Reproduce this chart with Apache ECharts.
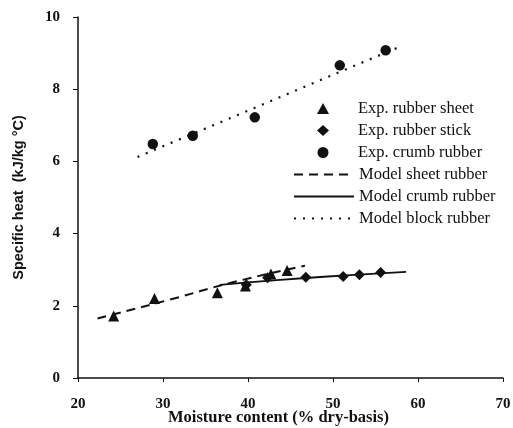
<!DOCTYPE html>
<html><head><meta charset="utf-8">
<script src="https://cdn.jsdelivr.net/npm/echarts@6/dist/echarts.min.js"></script>
<style>html,body{margin:0;padding:0;background:#fff}#c{width:513px;height:428px}</style>
</head><body><div id="c"></div>
<script>
const xTicks = [20, 30, 40, 50, 60, 70];
const yTicks = [0, 2, 4, 6, 8, 10];
const seriesNames = ['Exp. rubber sheet', 'Exp. rubber stick', 'Exp. crumb rubber', 'Model sheet rubber', 'Model crumb rubber', 'Model block rubber'];
const expSheet = [[24.2, 1.72], [29.0, 2.2], [36.4, 2.36], [39.7, 2.55], [42.7, 2.88], [44.6, 2.98]];
const expStick = [[39.8, 2.58], [42.3, 2.78], [46.8, 2.79], [51.2, 2.81], [53.1, 2.86], [55.6, 2.92]];
const expCrumb = [[28.8, 6.48], [33.5, 6.71], [40.8, 7.22], [50.8, 8.66], [56.2, 9.08]];
const modelSheet = [[22.3, 1.65], [30.8, 2.17], [38.2, 2.65], [46.7, 3.11]];
const modelCrumb = [[36.7, 2.58], [40.0, 2.65], [46.8, 2.77], [52.0, 2.85], [58.6, 2.94]];
const modelBlock = [[27.0, 6.12], [57.8, 9.17]];

const serif = 'Liberation Serif';
const hiddenMark = { color: 'rgba(0,0,0,0)', borderWidth: 0, opacity: 0 };
const legendText = { fontFamily: serif, fontSize: 16.5, lineHeight: 16, color: '#111' };
const markStyle = { color: '#111', opacity: 1 };
const chart = echarts.init(document.getElementById('c'));
chart.setOption({
  animation: false,
  backgroundColor: '#fff',
  grid: { left: 78, right: 10, top: 17, bottom: 50, outerBoundsMode: 'none', containLabel: false },
  legend: [
    {
      orient: 'vertical', left: 312, top: 95,
      itemWidth: 12, itemHeight: 11, itemGap: 5,
      textStyle: Object.assign({ padding: [0, 0, 0, 24] }, legendText),
      data: seriesNames.slice(0, 3)
    },
    {
      orient: 'vertical', left: 288, top: 161,
      itemWidth: 60, itemHeight: 11, itemGap: 5,
      textStyle: legendText,
      data: seriesNames.slice(3).map(n => ({ name: n, itemStyle: hiddenMark }))
    }
  ],
  xAxis: {
    type: 'value', min: xTicks[0], max: xTicks[xTicks.length - 1], interval: 10,
    name: 'Moisture content (% dry-basis)', nameLocation: 'middle', nameGap: 31, nameMoveOverlap: false,
    nameTextStyle: { fontFamily: serif, fontSize: 16.5, fontWeight: 'bold', color: '#111', padding: [0, 24, 0, 0] },
    axisLine: { lineStyle: { color: '#111', width: 1.5 } },
    axisTick: { show: true, length: 4, lineStyle: { color: '#111' } },
    axisLabel: { margin: 19, fontFamily: serif, fontSize: 15, fontWeight: 'bold', color: '#111' },
    splitLine: { show: false }
  },
  yAxis: {
    type: 'value', min: yTicks[0], max: yTicks[yTicks.length - 1], interval: 2,
    name: 'Specific heat  (kJ/kg °C)', nameLocation: 'middle', nameGap: 52, nameMoveOverlap: false,
    nameTextStyle: { fontFamily: 'Liberation Sans', fontSize: 14.5, fontWeight: 'bold', color: '#111' },
    axisLine: { show: true, lineStyle: { color: '#111', width: 1.5 } },
    axisTick: { show: true, length: 5, lineStyle: { color: '#111' } },
    axisLabel: { margin: 18, fontFamily: serif, fontSize: 15, fontWeight: 'bold', color: '#111' },
    splitLine: { show: false }
  },
  series: [
    { name: seriesNames[0], type: 'scatter', data: expSheet, symbol: 'triangle', symbolSize: 11, itemStyle: markStyle, z: 5 },
    { name: seriesNames[1], type: 'scatter', data: expStick, symbol: 'diamond', symbolSize: 11, itemStyle: markStyle, z: 5 },
    { name: seriesNames[2], type: 'scatter', data: expCrumb, symbol: 'circle', symbolSize: 10.5, itemStyle: markStyle, z: 5 },
    { name: seriesNames[3], type: 'line', data: modelSheet, symbol: 'none', smooth: true, lineStyle: { color: '#111', width: 2, type: [9, 6] }, itemStyle: { color: '#111' } },
    { name: seriesNames[4], type: 'line', data: modelCrumb, symbol: 'none', smooth: true, lineStyle: { color: '#111', width: 1.8 }, itemStyle: { color: '#111' } },
    { name: seriesNames[5], type: 'line', data: modelBlock, symbol: 'none', lineStyle: { color: '#111', width: 2.2, type: [2, 7] }, itemStyle: { color: '#111' } }
  ]
});
</script></body></html>
